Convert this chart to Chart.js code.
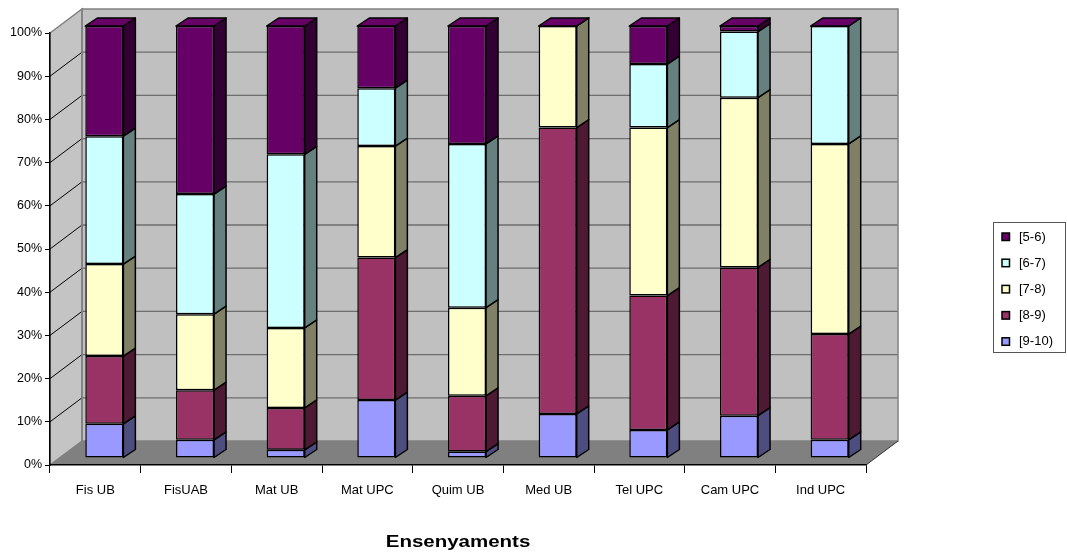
<!DOCTYPE html>
<html lang="ca">
<head>
<meta charset="UTF-8">
<title>Ensenyaments</title>
<script src="https://cdn.jsdelivr.net/npm/chart.js"></script>
<style>
  body { margin: 0; background: #fff; }
  #wrap { width: 1067px; height: 556px; }
</style>
</head>
<body>
<div id="wrap"><canvas id="chart" width="1067" height="556"></canvas></div>
<script>
// data (percent of each band per degree)
const categories = ['Fis UB', 'FisUAB', 'Mat UB', 'Mat UPC', 'Quim UB', 'Med UB', 'Tel UPC', 'Cam UPC', 'Ind UPC'];
const seriesNames = ['[9-10)', '[8-9)', '[7-8)', '[6-7)', '[5-6)'];
const band9_10 = [7.9, 4.2, 1.9, 13.4, 1.5, 10.2, 6.5, 9.8, 4.2];
const band8_9 = [15.7, 11.5, 9.7, 33.0, 12.9, 66.3, 31.1, 34.3, 24.5];
const band7_8 = [21.3, 17.6, 18.5, 25.8, 20.4, 23.5, 38.9, 39.3, 44.0];
const band6_7 = [29.6, 27.8, 40.2, 13.4, 37.9, 0, 14.7, 15.3, 27.3];
const band5_6 = [25.5, 38.9, 29.7, 14.4, 27.3, 0, 8.8, 1.3, 0];
const yTicks = [0, 10, 20, 30, 40, 50, 60, 70, 80, 90, 100];
const axisTitle = 'Ensenyaments';

const frontColors = ['#9999FF', '#993366', '#FFFFCC', '#CCFFFF', '#660066'];
const sideColors = ['#4D4D80', '#4D1933', '#808066', '#668080', '#330033'];

// 3d offsets
const BAR_SHIFT_X = 9, BAR_SHIFT_Y = -7;   // bars sit a bit behind the front axis
const BAR_DX = 12, BAR_DY = -8;            // bar depth
const WALL_DX = 32, WALL_DY = -24;         // back wall depth

const bands = [band9_10, band8_9, band7_8, band6_7, band5_6];
const FONT = '"Liberation Sans", Arial, sans-serif';

const walls = {
    id: 'walls',
    beforeDraw(chart) {
        const {ctx, chartArea: a, scales: {y}} = chart;
        ctx.save();
        // back wall
        ctx.fillStyle = '#C0C0C0';
        ctx.fillRect(a.left + WALL_DX, a.top + WALL_DY, a.right - a.left, a.bottom - a.top);
        // left wall
        ctx.beginPath();
        ctx.moveTo(a.left, a.top);
        ctx.lineTo(a.left + WALL_DX, a.top + WALL_DY);
        ctx.lineTo(a.left + WALL_DX, a.bottom + WALL_DY);
        ctx.lineTo(a.left, a.bottom);
        ctx.closePath();
        ctx.fillStyle = '#C4C4C4';
        ctx.fill();
        ctx.strokeStyle = '#808080';
        ctx.lineWidth = 1.5;
        ctx.stroke();
        // floor
        ctx.beginPath();
        ctx.moveTo(a.left, a.bottom);
        ctx.lineTo(a.right, a.bottom);
        ctx.lineTo(a.right + WALL_DX, a.bottom + WALL_DY);
        ctx.lineTo(a.left + WALL_DX, a.bottom + WALL_DY);
        ctx.closePath();
        ctx.fillStyle = '#808080';
        ctx.fill();
        // grid lines
        yTicks.forEach(v => {
            if (v === 0 || v === 100) return;
            const py = y.getPixelForValue(v);
            ctx.beginPath();
            ctx.moveTo(a.left, py);
            ctx.lineTo(a.left + WALL_DX, py + WALL_DY);
            ctx.strokeStyle = '#000';
            ctx.lineWidth = 1;
            ctx.stroke();
            ctx.beginPath();
            ctx.moveTo(a.left + WALL_DX, py + WALL_DY);
            ctx.lineTo(a.right + WALL_DX, py + WALL_DY);
            ctx.strokeStyle = '#6E6E6E';
            ctx.lineWidth = 1.3;
            ctx.stroke();
        });
        // back wall outline
        ctx.strokeStyle = '#808080';
        ctx.lineWidth = 1.5;
        ctx.strokeRect(a.left + WALL_DX, a.top + WALL_DY, a.right - a.left, a.bottom - a.top);
        // floor right edge
        ctx.beginPath();
        ctx.moveTo(a.right, a.bottom);
        ctx.lineTo(a.right + WALL_DX, a.bottom + WALL_DY);
        ctx.strokeStyle = '#333';
        ctx.lineWidth = 1;
        ctx.stroke();
        ctx.restore();
    }
};

const bars3d = {
    id: 'bars3d',
    beforeDatasetsDraw(chart) {
        chart.ctx.save();
        chart.ctx.translate(BAR_SHIFT_X, BAR_SHIFT_Y);
    },
    afterDatasetsDraw(chart) {
        const ctx = chart.ctx;
        ctx.lineWidth = 1.5;
        ctx.strokeStyle = '#000';
        ctx.lineJoin = 'round';
        const last = chart.data.datasets.length - 1;
        chart.data.datasets.forEach((ds, di) => {
            const meta = chart.getDatasetMeta(di);
            meta.data.forEach(bar => {
                const {x, y, base, width} = bar.getProps(['x', 'y', 'base', 'width'], true);
                const l = x - width / 2, r = x + width / 2;
                ctx.beginPath();
                ctx.moveTo(r, base);
                ctx.lineTo(r + BAR_DX, base + BAR_DY);
                ctx.lineTo(r + BAR_DX, y + BAR_DY);
                ctx.lineTo(r, y);
                ctx.closePath();
                ctx.fillStyle = sideColors[di];
                ctx.fill();
                ctx.stroke();
                if (di === last) {
                    ctx.beginPath();
                    ctx.moveTo(l, y);
                    ctx.lineTo(r, y);
                    ctx.lineTo(r + BAR_DX, y + BAR_DY);
                    ctx.lineTo(l + BAR_DX, y + BAR_DY);
                    ctx.closePath();
                    ctx.fillStyle = frontColors[di];
                    ctx.fill();
                    ctx.stroke();
                }
            });
        });
        ctx.restore();
    },
    afterDraw(chart) {
        const {ctx, chartArea: a} = chart;
        ctx.save();
        // axis title, stretched like the original
        ctx.translate((a.left + a.right) / 2, 543);
        ctx.scale(1.28, 1);
        ctx.font = 'bold 16px ' + FONT;
        ctx.fillStyle = '#000';
        ctx.textAlign = 'center';
        ctx.textBaseline = 'middle';
        ctx.fillText(axisTitle, 0, 0);
        ctx.restore();

        // legend
        ctx.save();
        ctx.strokeStyle = '#555';
        ctx.lineWidth = 1;
        ctx.strokeRect(993.5, 222.5, 72, 130);
        ctx.font = '13px ' + FONT;
        ctx.textAlign = 'left';
        ctx.textBaseline = 'middle';
        for (let k = 0; k < seriesNames.length; k++) {
            const di = seriesNames.length - 1 - k;
            const cy = 237 + k * 26.2;
            ctx.fillStyle = frontColors[di];
            ctx.fillRect(1002, cy - 4, 7.5, 7.5);
            ctx.strokeStyle = '#000';
            ctx.lineWidth = 1.5;
            ctx.strokeRect(1002, cy - 4, 7.5, 7.5);
            ctx.fillStyle = '#000';
            ctx.fillText(seriesNames[di], 1019, cy);
        }
        ctx.restore();
    }
};

const datasets = bands.map((values, i) => ({
    label: seriesNames[i],
    data: values,
    backgroundColor: frontColors[i],
    borderColor: '#000',
    borderWidth: 1.5,
    borderSkipped: false,
    categoryPercentage: 0.42,
    barPercentage: 1,
    clip: false
}));

new Chart(document.getElementById('chart'), {
    type: 'bar',
    data: { labels: categories, datasets: datasets },
    options: {
        responsive: false,
        animation: false,
        layout: { padding: { top: 33, right: 201, left: 0, bottom: 0 } },
        plugins: { legend: { display: false }, tooltip: { enabled: false } },
        scales: {
            x: {
                stacked: true,
                grid: { offset: true, drawOnChartArea: false, drawTicks: true, tickLength: 8, color: '#000', lineWidth: 1 },
                border: { display: true, color: '#000', width: 1.5 },
                ticks: { color: '#000', padding: 10, font: { family: FONT, size: 13 } },
                afterFit: s => { s.height = 91; }
            },
            y: {
                stacked: true,
                min: 0,
                max: 100,
                grid: { drawOnChartArea: false, drawTicks: true, tickLength: 5, color: '#000' },
                border: { display: true, color: '#000', width: 1.5 },
                ticks: {
                    stepSize: 10,
                    color: '#000',
                    padding: 3,
                    font: { family: FONT, size: 12.5 },
                    callback: v => v + '%'
                },
                afterFit: s => { s.width = 50; }
            }
        }
    },
    plugins: [walls, bars3d]
});
</script>
</body>
</html>
